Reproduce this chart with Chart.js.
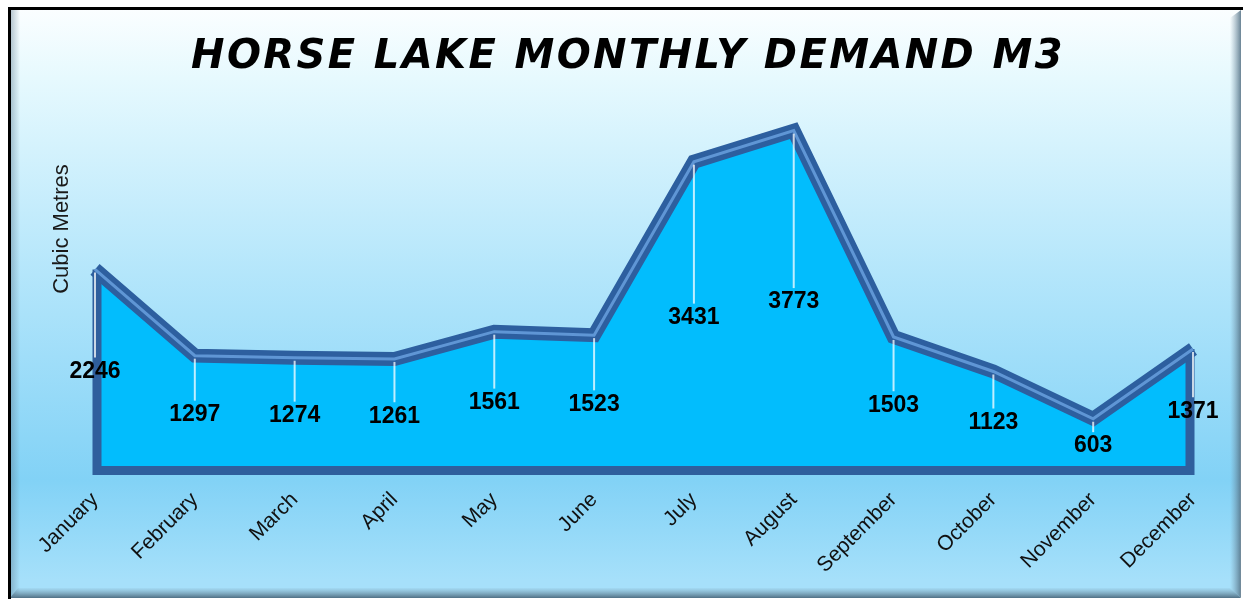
<!DOCTYPE html>
<html>
<head>
<meta charset="utf-8">
<script src="https://cdn.jsdelivr.net/npm/chart.js@4.4.1/dist/chart.umd.min.js"></script>
<style>
  html, body { margin: 0; padding: 0; background: #ffffff; }
  #wrap { width: 1243px; height: 602px; position: relative; }
</style>
</head>
<body>
<div id="wrap"><canvas id="c"></canvas></div>
<script>
// ---- data ----
const months = ["January","February","March","April","May","June","July","August","September","October","November","December"];
const demand = [2246, 1297, 1274, 1261, 1561, 1523, 3431, 3773, 1503, 1123, 603, 1371];
const chartTitle = "HORSE LAKE MONTHLY DEMAND M3";
const yAxisTitle = "Cubic Metres";
const yMin = 0;
const yMax = 4000;

// ---- plugins ----
const backgroundPlugin = {
  id: 'bg',
  beforeDraw(chart) {
    const ctx = chart.ctx;
    const W = chart.width, H = chart.height;
    ctx.save();
    ctx.fillStyle = '#ffffff';
    ctx.fillRect(0, 0, W, H);
    const g = ctx.createLinearGradient(0, 8, 0, 598);
    g.addColorStop(0, '#fbfeff');
    g.addColorStop(0.12, '#e6f9fe');
    g.addColorStop(0.45, '#b4e6fb');
    g.addColorStop(0.8, '#82d2f6');
    g.addColorStop(0.97, '#a6e0fa');
    g.addColorStop(1, '#a6e0fa');
    ctx.fillStyle = g;
    ctx.fillRect(8, 8, 1232, 590);
    const gr = ctx.createLinearGradient(1230, 0, 1241, 0);
    gr.addColorStop(0, 'rgba(120,150,170,0)');
    gr.addColorStop(1, 'rgba(80,110,130,0.85)');
    ctx.fillStyle = gr;
    ctx.beginPath();
    ctx.moveTo(1230, 18); ctx.lineTo(1241, 10); ctx.lineTo(1241, 598); ctx.lineTo(1230, 588); ctx.closePath();
    ctx.fill();
    const gb = ctx.createLinearGradient(0, 587, 0, 598);
    gb.addColorStop(0, 'rgba(120,150,170,0)');
    gb.addColorStop(1, 'rgba(70,100,120,0.9)');
    ctx.fillStyle = gb;
    ctx.beginPath();
    ctx.moveTo(18, 588); ctx.lineTo(1230, 588); ctx.lineTo(1241, 598); ctx.lineTo(10, 598); ctx.closePath();
    ctx.fill();
    const gl = ctx.createLinearGradient(10, 0, 20, 0);
    gl.addColorStop(0, 'rgba(90,120,140,0.45)');
    gl.addColorStop(1, 'rgba(90,120,140,0)');
    ctx.fillStyle = gl;
    ctx.fillRect(10, 10, 10, 588);
    ctx.strokeStyle = '#000000';
    ctx.lineWidth = 3;
    ctx.beginPath();
    ctx.moveTo(9.5, 599); ctx.lineTo(9.5, 8.5); ctx.lineTo(1243, 8.5);
    ctx.stroke();
    ctx.restore();
  }
};

const framePlugin = {
  id: 'frame',
  afterDatasetDraw(chart, args) {
    if (args.index !== 2) return;
    const ctx = chart.ctx;
    const xs = chart.scales.x, ys = chart.scales.y;
    const x0 = xs.getPixelForValue(0) + 2;
    const x1 = xs.getPixelForValue(demand.length - 1) - 3;
    const yb = ys.getPixelForValue(0) - 3;
    ctx.save();
    ctx.strokeStyle = '#2f5f9d';
    ctx.lineWidth = 9;
    ctx.lineJoin = 'miter';
    ctx.beginPath();
    ctx.moveTo(x0, ys.getPixelForValue(demand[0]));
    ctx.lineTo(x0, yb);
    ctx.lineTo(x1, yb);
    ctx.lineTo(x1, ys.getPixelForValue(demand[demand.length - 1]));
    ctx.stroke();
    ctx.restore();
  }
};

const labelsPlugin = {
  id: 'dlabels',
  afterDatasetsDraw(chart) {
    const ctx = chart.ctx;
    const xs = chart.scales.x, ys = chart.scales.y;
    ctx.save();
    demand.forEach((v, i) => {
      const x = xs.getPixelForValue(i);
      const yTop = ys.getPixelForValue(v) + 3;
      const yLab = ys.getPixelForValue(v / 2);
      ctx.strokeStyle = 'rgba(255,255,255,0.75)';
      ctx.lineWidth = 2;
      ctx.beginPath();
      ctx.moveTo(x, yTop);
      ctx.lineTo(x, yLab - 14);
      ctx.stroke();
    });
    ctx.fillStyle = '#000000';
    ctx.font = 'bold 23px "Liberation Sans", Arial, sans-serif';
    ctx.textAlign = 'center';
    ctx.textBaseline = 'middle';
    demand.forEach((v, i) => {
      const x = xs.getPixelForValue(i);
      const yLab = ys.getPixelForValue(v / 2);
      ctx.fillText(String(v), x, yLab);
    });
    ctx.restore();
  }
};

const textPlugin = {
  id: 'texts',
  afterDraw(chart) {
    const ctx = chart.ctx;
    ctx.save();
    ctx.fillStyle = '#000000';
    ctx.font = 'italic bold 40px "DejaVu Sans", Verdana, sans-serif';
    ctx.textAlign = 'center';
    ctx.textBaseline = 'alphabetic';
    ctx.letterSpacing = '2.4px';
    ctx.fillText(chartTitle, 628, 68);
    ctx.letterSpacing = '0px';
    ctx.font = '22px "Liberation Sans", Arial, sans-serif';
    ctx.fillStyle = '#1a1a1a';
    ctx.translate(62, 229);
    ctx.rotate(-Math.PI / 2);
    ctx.textAlign = 'center';
    ctx.textBaseline = 'middle';
    ctx.fillText(yAxisTitle, 0, 0);
    ctx.restore();
  }
};

new Chart(document.getElementById('c'), {
  type: 'line',
  data: {
    labels: months,
    datasets: [
      {
        data: demand,
        fill: false,
        borderColor: 'rgba(105,160,222,0.85)',
        borderWidth: 3,
        pointRadius: 0,
        tension: 0,
        borderJoinStyle: 'miter',
        clip: false
      },
      {
        data: demand,
        fill: false,
        borderColor: '#2d5f9f',
        borderWidth: 14,
        pointRadius: 0,
        tension: 0,
        borderJoinStyle: 'miter',
        clip: false
      },
      {
        data: demand,
        fill: 'origin',
        backgroundColor: '#02bdfd',
        borderWidth: 0,
        borderColor: 'rgba(0,0,0,0)',
        pointRadius: 0,
        tension: 0
      }
    ]
  },
  options: {
    responsive: true,
    maintainAspectRatio: false,
    animation: false,
    events: [],
    layout: { padding: { left: 95, right: 50, top: 110, bottom: 10 } },
    plugins: {
      legend: { display: false },
      tooltip: { enabled: false },
      title: { display: false }
    },
    scales: {
      x: {
        offset: false,
        grid: { display: false, drawTicks: false },
        border: { display: false },
        ticks: {
          color: '#111111',
          font: { family: '"Liberation Sans", Arial, sans-serif', size: 21 },
          minRotation: 45,
          maxRotation: 45,
          padding: 14,
          autoSkip: false
        }
      },
      y: {
        display: false,
        min: yMin,
        max: yMax
      }
    }
  },
  plugins: [backgroundPlugin, framePlugin, labelsPlugin, textPlugin]
});
</script>
</body>
</html>
